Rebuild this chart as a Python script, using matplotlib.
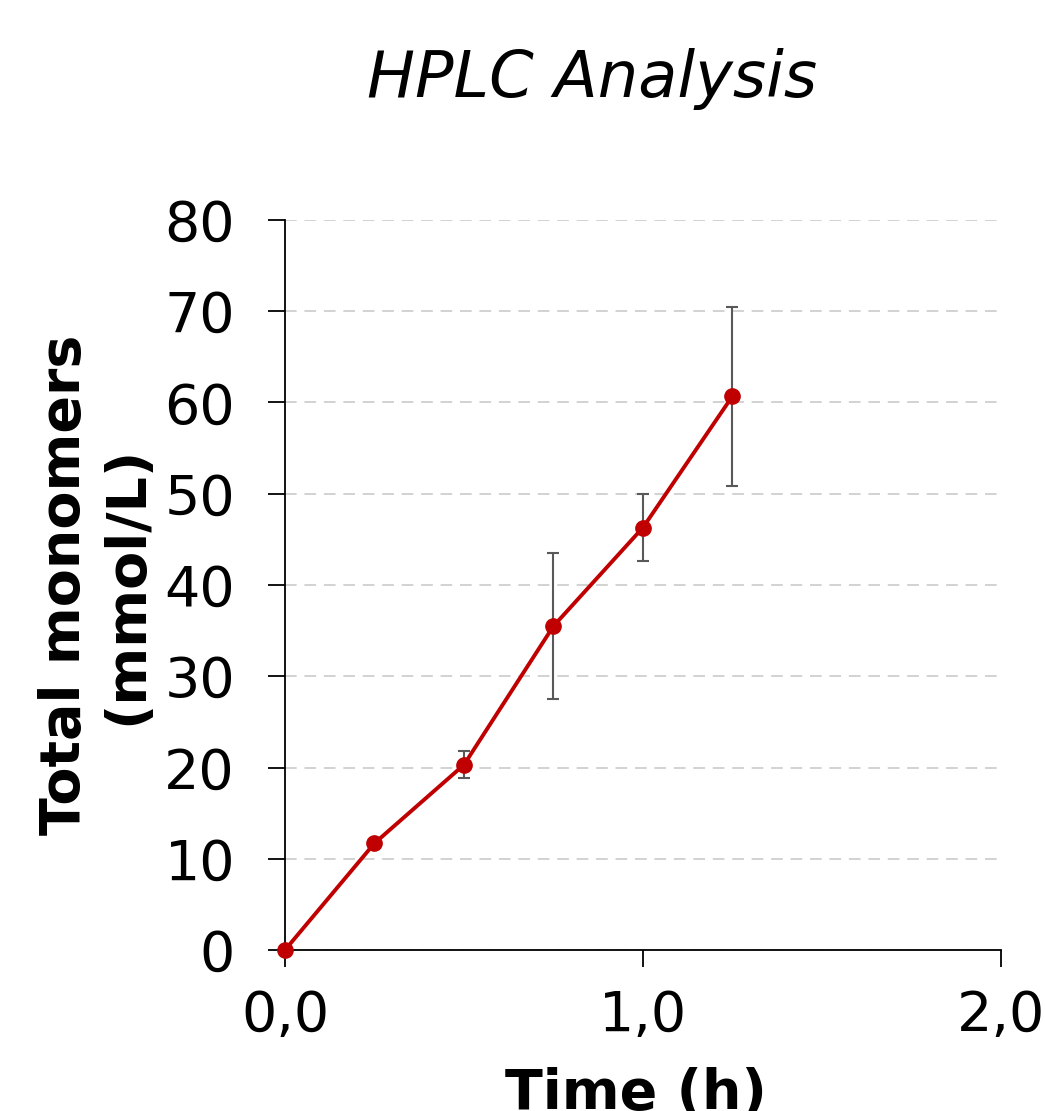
import matplotlib.pyplot as plt

# 측정값 (HPLC)
time_h = [0.0, 0.25, 0.5, 0.75, 1.0, 1.25]
monomers = [0.0, 11.7, 20.3, 35.5, 46.3, 60.7]
err = [0.0, 0.3, 1.5, 8.0, 3.7, 9.8]

x_ticks = [0.0, 1.0, 2.0]
x_ticklabels = ["0,0", "1,0", "2,0"]
y_ticks = [0, 10, 20, 30, 40, 50, 60, 70, 80]

RED = "#c00000"
ERR_GRAY = "#595959"

plt.rcParams["font.family"] = ["DejaVu Sans"]

fig = plt.figure(figsize=(10.45, 11.11), dpi=100)
ax = fig.add_axes([0.2727, 0.1449, 0.6852, 0.6571])

ax.errorbar(time_h, monomers, yerr=err, fmt="none", ecolor=ERR_GRAY,
            elinewidth=1.5, capsize=4.5, capthick=1.5, zorder=2)
ax.plot(time_h, monomers, "-o", color=RED, lw=2.8, ms=11,
        clip_on=False, zorder=3)

ax.set_xlim(0, 2)
ax.set_ylim(0, 80)
ax.set_xticks(x_ticks)
ax.set_xticklabels(x_ticklabels)
ax.set_yticks(y_ticks)
ax.tick_params(axis="both", labelsize=40, length=12, width=1.3,
               color="black")
ax.tick_params(axis="x", pad=16)
ax.tick_params(axis="y", pad=24)

for s in ("top", "right"):
    ax.spines[s].set_visible(False)
for s in ("left", "bottom"):
    ax.spines[s].set_linewidth(1.3)

ax.yaxis.grid(True, ls=(0, (6, 4)), color="#d2d2d2", lw=1.4)
ax.set_axisbelow(True)

fig.text(0.567, 0.929, "HPLC Analysis", style="italic", fontsize=46,
         ha="center", va="center")
fig.text(0.092, 0.4735, "Total monomers\n(mmol/L)", rotation=90,
         fontsize=40, fontweight="bold", ha="center", va="center",
         multialignment="center")
fig.text(0.609, 0.002, "Time (h)", fontsize=40, fontweight="bold",
         ha="center", va="baseline")

fig.savefig("out.png", dpi=100)
